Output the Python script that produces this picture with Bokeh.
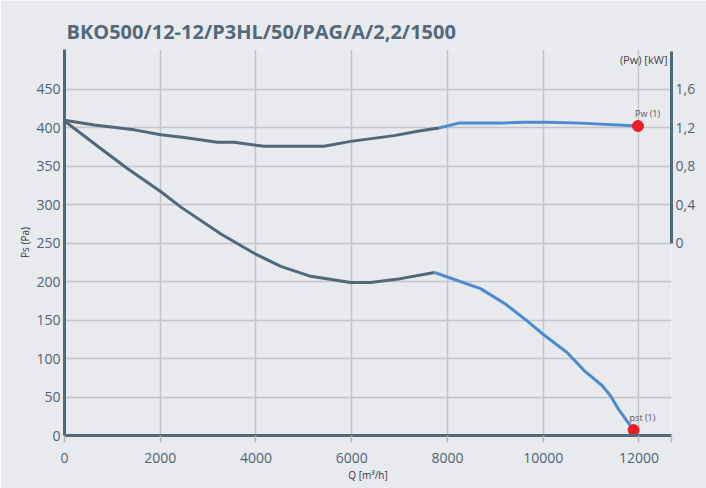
from bokeh.plotting import figure
from bokeh.models import Range1d, LinearAxis, FixedTicker, Label
from bokeh.core.properties import value
from bokeh.embed import file_html
from bokeh.resources import INLINE

title_text = "BKO500/12-12/P3HL/50/PAG/A/2,2/1500"

# Static pressure curve (Pa) vs Q (m3/h)
ps_q_dark = [0, 763, 1320, 2015, 2432, 3267, 3961, 4518, 5144, 5978, 6395, 7021, 7730]
ps_pa_dark = [409, 373, 347, 317, 297, 262, 237, 220, 207, 199, 199, 204, 212]
ps_q_blue = [7730, 8690, 9211, 9664, 10010, 10499, 10880, 11229, 11402, 11575, 11888]
ps_pa_blue = [212, 191, 171, 149, 131, 108, 83, 65, 52, 34, 7]

# Shaft power curve (kW) vs Q
pw_q_dark = [0, 624, 1458, 2015, 2501, 3198, 3544, 4170, 5421, 5978, 6882, 7438, 7820]
pw_kw_dark = [1.28, 1.23, 1.18, 1.13, 1.10, 1.05, 1.05, 1.01, 1.01, 1.06, 1.12, 1.17, 1.20]
pw_q_blue = [7820, 8237, 9107, 9593, 10081, 10776, 11980]
pw_kw_blue = [1.20, 1.25, 1.25, 1.26, 1.26, 1.25, 1.22]

# Operating points
pst_point_q = [11888]
pst_point_pa = [7]
pst_point_label = ["pst (1)"]
pw_point_q = [11980]
pw_point_kw = [1.22]
pw_point_label = ["Pw (1)"]

x_ticks = [0, 2000, 4000, 6000, 8000, 10000, 12000]
x_end = 12680
y_ticks = [0, 50, 100, 150, 200, 250, 300, 350, 400, 450]
y_end = 502
kw_ticks = [0, 0.4, 0.8, 1.2, 1.6]
kw_labels = ["0", "0,4", "0,8", "1,2", "1,6"]

BG = "#e9eaee"
SLATE = "#51687a"
BLUE = "#4a8bd1"
RED = "#ee1c25"
GRID = "#c2c4c8"
TICKCOL = "#4f6475"
FONT = "Open Sans"

p = figure(width=706, height=488, x_range=Range1d(0, x_end), y_range=Range1d(0, y_end),
           output_backend="svg", toolbar_location=None,
           min_border_left=64, min_border_right=35, min_border_top=49, min_border_bottom=53)
p.background_fill_color = BG
p.border_fill_color = BG
p.outline_line_color = None

p.title.text = title_text
p.title.text_font = FONT
p.title.text_font_size = "20px"
p.title.text_font_style = "bold"
p.title.text_color = "#536878"
p.title.offset = 2
p.title.standoff = 10

# kW range mapped so that 0 kW <-> 250 Pa and 0.4 kW per 50 Pa
p.extra_y_ranges = {"kw": Range1d(-2.0, (y_end - 250) * 0.008)}

# x axis
xa = p.xaxis[0]
xa.ticker = FixedTicker(ticks=x_ticks + [x_end])
xa.major_label_overrides = {x_end: ""}
xa.axis_line_width = 3
xa.axis_line_color = SLATE
xa.major_tick_out = 7
xa.major_tick_in = 0
xa.major_tick_line_color = "#b3b6bb"
xa.major_tick_line_width = 1.5
xa.minor_tick_line_color = None
xa.major_label_standoff = 10
xa.major_label_text_font = FONT
xa.major_label_text_font_size = "14px"
xa.major_label_text_color = TICKCOL
xa.axis_label = "Q [m³/h]"
xa.axis_label_text_font = FONT
xa.axis_label_text_font_size = "10px"
xa.axis_label_text_font_style = "normal"
xa.axis_label_text_color = "#333333"
xa.axis_label_standoff = 2

# left axis
ya = p.yaxis[0]
ya.ticker = FixedTicker(ticks=y_ticks)
ya.axis_line_width = 3
ya.axis_line_color = SLATE
ya.major_tick_out = 0
ya.major_tick_in = 0
ya.minor_tick_line_color = None
ya.major_label_standoff = 4
ya.major_label_text_font = FONT
ya.major_label_text_font_size = "14px"
ya.major_label_text_color = TICKCOL
ya.axis_label = "Ps (Pa)"
ya.axis_label_text_font = FONT
ya.axis_label_text_font_size = "10px"
ya.axis_label_text_font_style = "normal"
ya.axis_label_text_color = "#333333"
ya.axis_label_standoff = 1

# right axis (kW)
ra = LinearAxis(y_range_name="kw", ticker=FixedTicker(ticks=kw_ticks),
                major_label_overrides=dict(zip(kw_ticks, kw_labels)))
ra.bounds = (0, 2.0)
ra.axis_line_width = 3
ra.axis_line_color = SLATE
ra.major_tick_out = 0
ra.major_tick_in = 0
ra.minor_tick_line_color = None
ra.major_label_standoff = 4
ra.major_label_text_font = FONT
ra.major_label_text_font_size = "14px"
ra.major_label_text_color = TICKCOL
p.add_layout(ra, "right")

# grids
p.xgrid.ticker = FixedTicker(ticks=x_ticks + [x_end])
p.ygrid.ticker = FixedTicker(ticks=y_ticks)
for g in (p.xgrid[0], p.ygrid[0]):
    g.grid_line_color = GRID
    g.grid_line_width = 1.5

# curves
p.line(ps_q_dark, ps_pa_dark, line_color=SLATE, line_width=3)
p.line(ps_q_blue, ps_pa_blue, line_color=BLUE, line_width=3)
p.line(pw_q_dark, pw_kw_dark, line_color=SLATE, line_width=3, y_range_name="kw")
p.line(pw_q_blue, pw_kw_blue, line_color=BLUE, line_width=3, y_range_name="kw")

# operating points
p.scatter(pst_point_q, pst_point_pa, size=11, fill_color=RED, line_color=RED)
p.scatter(pw_point_q, pw_point_kw, size=11, fill_color=RED, line_color=RED, y_range_name="kw")
p.text(pst_point_q, pst_point_pa, text=pst_point_label, x_offset=-4, y_offset=-6,
       text_font=value(FONT), text_font_size="9px", text_color="#555555",
       text_baseline="bottom", text_align="left")
p.text(pw_point_q, pw_point_kw, text=pw_point_label, x_offset=-3, y_offset=-6,
       text_font=value(FONT), text_font_size="9px", text_color="#555555",
       text_baseline="bottom", text_align="left", y_range_name="kw")

# right axis label inside plot
p.add_layout(Label(x=x_end, y=y_end, x_offset=-4, y_offset=-2, text="(Pw) [kW]",
                   text_align="right", text_baseline="top", text_font=FONT,
                   text_font_size="11px", text_color="#444444"))

open("out.html", "w").write(file_html(p, INLINE))
